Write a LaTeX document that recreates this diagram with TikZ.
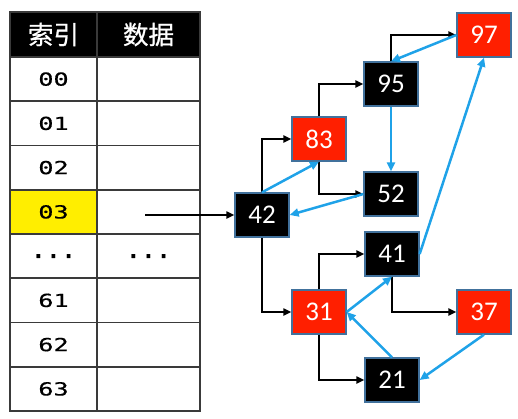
\documentclass[tikz,border=0pt]{standalone}
\usepackage{fontspec}
\usepackage{graphicx}
\setmainfont{Carlito}
\newfontfamily\monof[FakeBold=0.4]{DejaVu Sans Mono}
\newfontfamily\cjk[FakeBold=0.8]{Noto Sans CJK SC}
\usetikzlibrary{arrows.meta}
\definecolor{nodeborder}{HTML}{41719C}
\definecolor{nodered}{HTML}{FF1F00}
\definecolor{linkblue}{HTML}{1FA2E8}
\definecolor{cellyellow}{HTML}{FFEE00}
\definecolor{gridgray}{HTML}{3A3A3A}
\newcommand{\widedig}[1]{\scalebox{1.4}[1]{#1}}
\newcommand{\tdots}{.\hspace{2.4pt}.\hspace{2.4pt}.}
\tikzset{
  cell/.style={draw=gridgray, line width=1.6pt, minimum height=44.25pt, inner sep=0pt, font=\monof\fontsize{18}{18}\selectfont},
  idx/.style={cell, minimum width=87pt},
  dat/.style={cell, minimum width=103pt},
  hdr/.style={fill=black, text=white, minimum height=45pt, font=\cjk\fontsize{25.5}{25.5}\selectfont},
  tnode/.style={draw=nodeborder, line width=1.3pt, minimum width=54pt, minimum height=44pt, inner sep=0pt, text=white, font=\fontsize{27}{27}\selectfont},
  blk/.style={tnode, fill=black},
  rd/.style={tnode, fill=nodered},
  kid/.style={line width=2pt, draw=black, -{Triangle[length=8pt,width=7pt]}},
  lnk/.style={line width=2.5pt, draw=linkblue, -{Triangle[length=9pt,width=8pt]}}
}
\begin{document}
\begin{tikzpicture}[x=1pt,y=-1pt]
\useasboundingbox (0,0) rectangle (518,418);
% table
\node[idx,hdr] (h1) at (53.5,34.5) {索引};
\node[dat,hdr] (h2) at (148.5,34.5) {数据};
\node[idx] (i0) at (53.5,79.1) {\widedig{00}};
\node[dat] (d0) at (148.5,79.1) {};
\node[idx] (i1) at (53.5,123.4) {\widedig{01}};
\node[dat] (d1) at (148.5,123.4) {};
\node[idx] (i2) at (53.5,167.6) {\widedig{02}};
\node[dat] (d2) at (148.5,167.6) {};
\node[idx,fill=cellyellow] (i3) at (53.5,211.9) {\widedig{03}};
\node[dat] (d3) at (148.5,211.9) {};
\node[idx,font=\monof\bfseries\fontsize{21}{21}\selectfont] (i4) at (53.5,256.1) {\tdots};
\node[dat,font=\monof\bfseries\fontsize{21}{21}\selectfont] (d4) at (148.5,256.1) {\tdots};
\node[idx] (i5) at (53.5,300.4) {\widedig{61}};
\node[dat] (d5) at (148.5,300.4) {};
\node[idx] (i6) at (53.5,344.6) {\widedig{62}};
\node[dat] (d6) at (148.5,344.6) {};
\node[idx] (i7) at (53.5,388.9) {\widedig{63}};
\node[dat] (d7) at (148.5,388.9) {};
% tree nodes
\node[blk] (n42) at (262,215) {42};
\node[rd]  (n83) at (319,139) {83};
\node[blk] (n95) at (391,84) {95};
\node[blk] (n52) at (391,194) {52};
\node[rd]  (n97) at (484,35) {97};
\node[blk] (n41) at (392,254) {41};
\node[rd]  (n31) at (319,312) {31};
\node[rd]  (n37) at (484,312) {37};
\node[blk] (n21) at (392,380) {21};
% pointer from table
\coordinate (p3) at (145,215);
\draw[kid] (p3) -- (n42.west);
% black child links
\draw[kid] (n42.north) |- (n83.west);
\draw[kid] (n42.south) |- (n31.west);
\draw[kid] (n83.north) |- (n95.west);
\draw[kid] (n83.south) |- (n52.west);
\draw[kid] (n95.north) |- (n97.west);
\draw[kid] (n31.north) |- (n41.west);
\draw[kid] (n31.south) |- (n21.west);
\draw[kid] (n41.south) |- (n37.west);
% blue links
\draw[lnk] (n42.north) -- (n83.south);
\draw[lnk] (n52.west) -- (n42.east);
\draw[lnk] (n95.south) -- (n52.north);
\draw[lnk] (n97.west) -- (n95.north);
\draw[lnk] (n41.east) -- (n97.south);
\draw[lnk] (n31.east) -- (n41.south);
\draw[lnk] (n21.north) -- (n31.east);
\draw[lnk] (n37.south) -- (n21.east);
\end{tikzpicture}
\end{document}
